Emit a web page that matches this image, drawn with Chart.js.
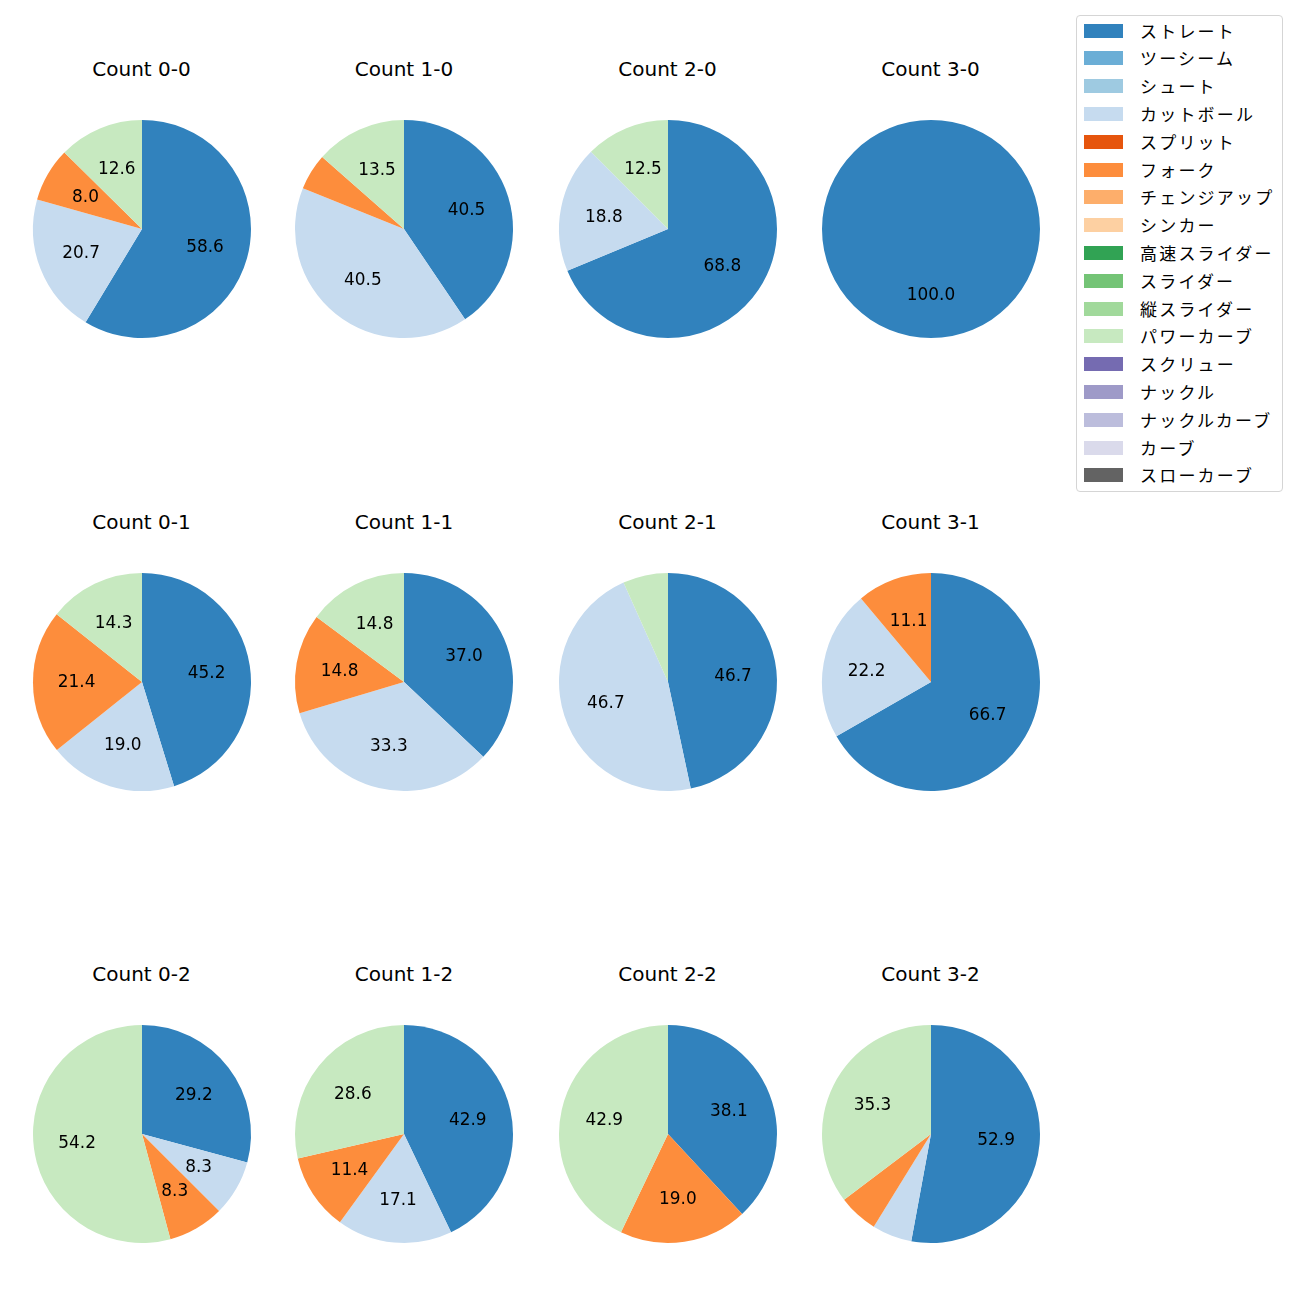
<!DOCTYPE html>
<html>
<head>
<meta charset="utf-8">
<script src="https://cdn.jsdelivr.net/npm/chart.js@4.4.0/dist/chart.umd.min.js"></script>
<style>
  html, body { margin:0; padding:0; background:#fff; }
  body { width:1300px; height:1300px; position:relative; overflow:hidden;
         font-family:"DejaVu Sans","Noto Sans CJK JP",sans-serif; }
  .title { position:absolute; width:240px; text-align:center; font-size:20px; color:#000; line-height:24px; }
  .pie { position:absolute; width:240px; height:240px; }
  #legend { position:absolute; left:1076px; top:15px; width:207px; height:477px;
            border:1px solid #d5d5d5; border-radius:4px; box-sizing:border-box; background:#fff; }
  .li { position:absolute; left:7px; height:24px; font-size:17px; color:#000;
        font-family:"Noto Sans CJK JP",sans-serif; }
  .li span.sw { position:absolute; left:0; top:5px; width:39px; height:14px; }
  .li span.tx { position:absolute; left:56px; top:0; white-space:nowrap; line-height:24px; letter-spacing:2.2px; }
</style>
</head>
<body>
<div id="legend"></div>
<script>
const countLabels = ["Count 0-0","Count 1-0","Count 2-0","Count 3-0",
                     "Count 0-1","Count 1-1","Count 2-1","Count 3-1",
                     "Count 0-2","Count 1-2","Count 2-2","Count 3-2"];
const pitchTypes = ["ストレート","ツーシーム","シュート","カットボール","スプリット","フォーク",
                    "チェンジアップ","シンカー","高速スライダー","スライダー","縦スライダー",
                    "パワーカーブ","スクリュー","ナックル","ナックルカーブ","カーブ","スローカーブ"];
const pitchColors = ["#3182bd","#6baed6","#9ecae1","#c6dbef","#e6550d","#fd8d3c",
                     "#fdae6b","#fdd0a2","#31a354","#74c476","#a1d99b",
                     "#c7e9c0","#756bb1","#9e9ac8","#bcbddc","#dadaeb","#636363"];
// percentage per count (same order as countLabels)
const straight   = [58.6,40.5,68.8,100.0,45.2,37.0,46.7,66.7,29.2,42.9,38.1,52.9];
const cutter     = [20.7,40.5,18.8,0,19.0,33.3,46.7,22.2,8.3,17.1,0,5.9];
const fork       = [8.0,5.4,0,0,21.4,14.8,0,11.1,8.3,11.4,19.0,5.9];
const powerCurve = [12.6,13.5,12.5,0,14.3,14.8,6.7,0,54.2,28.6,42.9,35.3];

const seriesByType = {"ストレート":straight,"カットボール":cutter,"フォーク":fork,"パワーカーブ":powerCurve};

const colX = [141.5,404,667.5,930.5];
const rowY = [229,682,1134];

// legend
const legend = document.getElementById('legend');
pitchTypes.forEach((p,i)=>{
  const d = document.createElement('div');
  d.className='li';
  d.style.top = (2.5 + i*27.8) + 'px';
  d.innerHTML = '<span class="sw" style="background:'+pitchColors[i]+'"></span><span class="tx">'+p+'</span>';
  legend.appendChild(d);
});

const labelPlugin = {
  id:'pctLabels',
  afterDatasetsDraw(chart){
    const ctx = chart.ctx;
    const meta = chart.getDatasetMeta(0);
    const data = chart.data.datasets[0].data;
    ctx.save();
    ctx.font = '16.9px "DejaVu Sans", "Noto Sans CJK JP", sans-serif';
    ctx.fillStyle = '#000';
    ctx.textAlign = 'center';
    ctx.textBaseline = 'middle';
    meta.data.forEach((arc,i)=>{
      const v = data[i];
      if (v < 7) return;
      const mid = (arc.startAngle + arc.endAngle)/2;
      const r = arc.outerRadius*0.6;
      ctx.fillText(v.toFixed(1), arc.x + Math.cos(mid)*r, arc.y + Math.sin(mid)*r + 1);
    });
    ctx.restore();
  }
};

countLabels.forEach((lab,k)=>{
  const cx = colX[k%4], cy = rowY[Math.floor(k/4)];
  const t = document.createElement('div');
  t.className='title';
  t.style.left = (cx-120)+'px';
  t.style.top = (cy-160.5-12)+'px';
  t.textContent = lab;
  document.body.appendChild(t);
  const c = document.createElement('canvas');
  c.className='pie';
  c.width=240; c.height=240;
  c.style.left=(cx-120)+'px';
  c.style.top=(cy-120)+'px';
  document.body.appendChild(c);
  const vals = pitchTypes.map(p => seriesByType[p] ? seriesByType[p][k] : 0);
  new Chart(c, {
    type:'pie',
    data:{ labels:pitchTypes, datasets:[{ data:vals, backgroundColor:pitchColors, borderWidth:0 }] },
    options:{
      responsive:false, animation:false, maintainAspectRatio:false,
      layout:{ padding:11 },
      plugins:{ legend:{display:false}, tooltip:{enabled:false}, title:{display:false} }
    },
    plugins:[labelPlugin]
  });
});
</script>
</body>
</html>
